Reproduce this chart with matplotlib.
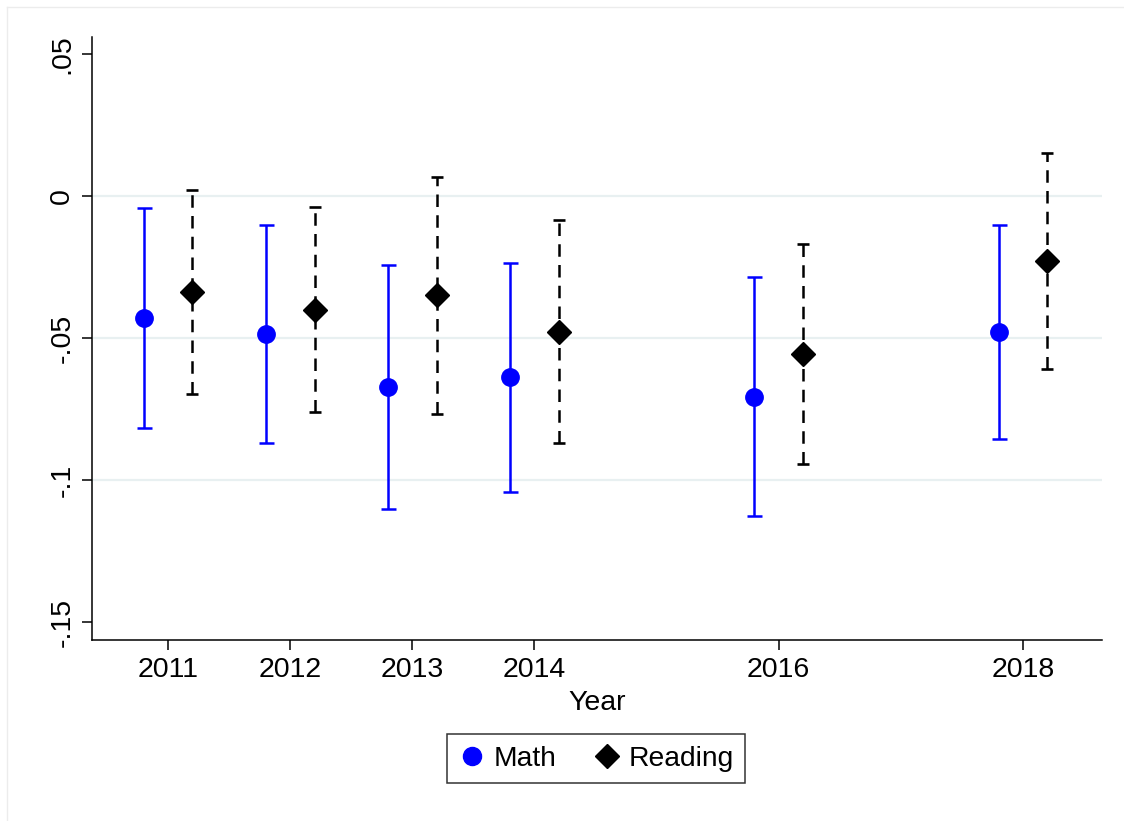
import matplotlib
matplotlib.use("Agg")
import matplotlib.pyplot as plt
from matplotlib.lines import Line2D

plt.rcParams['font.family'] = ['Liberation Sans', 'DejaVu Sans']

years = [2011, 2012, 2013, 2014, 2016, 2018]
year_labels = ['2011', '2012', '2013', '2014', '2016', '2018']

math_est = [-0.0430, -0.0486, -0.0673, -0.0637, -0.0708, -0.0479]
math_hi = [-0.0042, -0.0102, -0.0243, -0.0236, -0.0285, -0.0102]
math_lo = [-0.0817, -0.0870, -0.1102, -0.1042, -0.1127, -0.0856]

read_est = [-0.0338, -0.0401, -0.0349, -0.0479, -0.0556, -0.0229]
read_hi = [0.0021, -0.0039, 0.0067, -0.0085, -0.0169, 0.0151]
read_lo = [-0.0697, -0.0761, -0.0768, -0.0870, -0.0944, -0.0609]

y_ticks = [0.05, 0.0, -0.05, -0.1, -0.15]
y_tick_labels = ['.05', '0', '-.05', '-.1', '-.15']
grid_vals = [0.0, -0.05, -0.1]

W, H = 1124, 821
fig = plt.figure(figsize=(W / 100, H / 100), dpi=100)
ax = fig.add_axes([92 / W, 1 - 640 / H, (1102 - 92) / W, (640 - 37) / H])

for g in grid_vals:
    ax.axhline(g, color='#e8f0f1', lw=1.6, zorder=0)

off = 0.2
mx = [y - off for y in years]
rx = [y + off for y in years]

m_err = [[e - l for e, l in zip(math_est, math_lo)], [h - e for e, h in zip(math_est, math_hi)]]
r_err = [[e - l for e, l in zip(read_est, read_lo)], [h - e for e, h in zip(read_est, read_hi)]]

ax.errorbar(mx, math_est, yerr=m_err, fmt='o', color='#0000ff', ecolor='#0000ff',
            markersize=12.5, elinewidth=1.8, capsize=5.4, capthick=1.8, zorder=3)
eb = ax.errorbar(rx, read_est, yerr=r_err, fmt='D', color='black', ecolor='black',
                 markersize=12, elinewidth=1.8, capsize=4.3, capthick=1.9, zorder=3)
eb[2][0].set_linestyle((0, (5, 3.3)))

ax.set_xlim(2010.378, 2018.647)
ax.set_ylim(-0.1563, 0.056)
ax.set_xticks(years)
ax.set_xticklabels(year_labels, fontsize=20.5)
ax.set_yticks(y_ticks)
ax.set_yticklabels(y_tick_labels, fontsize=20.5, rotation=90, va='center')
ax.tick_params(axis='both', length=7, width=1.1, color='black')
ax.tick_params(axis='y', pad=5)
ax.tick_params(axis='x', pad=5)
ax.set_xlabel('Year', fontsize=20.5, labelpad=5)

for s in ['top', 'right']:
    ax.spines[s].set_visible(False)
for s in ['left', 'bottom']:
    ax.spines[s].set_linewidth(1.1)

handles = [
    Line2D([], [], marker='o', color='#0000ff', linestyle='none', markersize=13),
    Line2D([], [], marker='D', color='black', linestyle='none', markersize=12),
]
leg = fig.legend(handles, ['Math', 'Reading'], loc='center', ncol=2,
                 bbox_to_anchor=(596 / W, 1 - 758.5 / H), fontsize=20.3,
                 frameon=True, fancybox=False, edgecolor='black',
                 handletextpad=0.25, columnspacing=1.3, handlelength=1.0,
                 borderpad=0.4, borderaxespad=0)
leg.get_frame().set_linewidth(1.1)

# faint outer border
fig.add_artist(Line2D([7 / W, 1], [1 - 7 / H, 1 - 7 / H], transform=fig.transFigure,
                      color='#ececec', lw=1))
fig.add_artist(Line2D([7 / W, 7 / W], [0, 1 - 7 / H], transform=fig.transFigure,
                      color='#ececec', lw=1))

fig.savefig('out.png', dpi=100)
